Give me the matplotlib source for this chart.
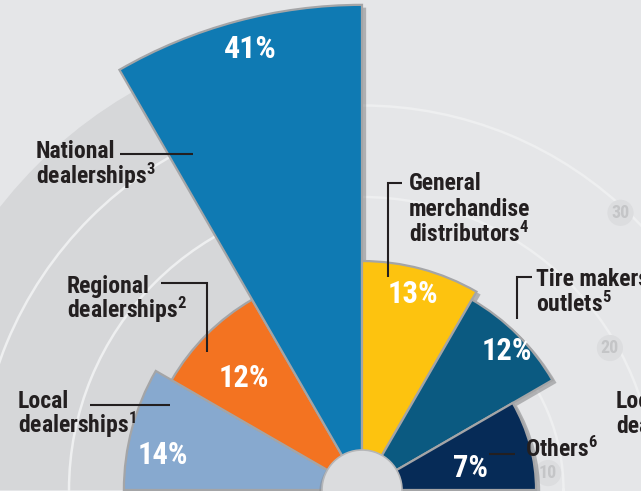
import numpy as np
import matplotlib
matplotlib.use('Agg')
import matplotlib.pyplot as plt
from matplotlib.patches import Circle
from matplotlib.lines import Line2D
import matplotlib.patheffects as pe
from matplotlib import font_manager as fm

# ---------------- data ----------------
categories = ['Local dealerships', 'Regional dealerships', 'National dealerships',
              'General merchandise distributors', 'Tire makers outlets', 'Others']
shares = [14, 12, 41, 13, 12, 7]
footnotes = ['1', '2', '3', '4', '5', '6']
pct_labels = ['14%', '12%', '41%', '13%', '12%', '7%']
grid_values = [10, 20, 30]
colors = ['#87a9cf', '#f37321', '#0f7ab3', '#fdc30f', '#0b5a81', '#062b57']

# ---------------- font ----------------
ttf = fm.fontManager.ttflist
available = {f.name for f in ttf}
font = 'DejaVu Sans'
for cand in ['Roboto Condensed', 'Archivo Narrow', 'PT Sans Narrow',
             'Barlow Condensed', 'Asap Condensed', 'Liberation Sans Narrow']:
    if cand in available:
        font = cand
        break
ital = font
for cand in [font, 'Archivo Narrow', 'Barlow Condensed', 'Asap Condensed']:
    if any(f.name == cand and f.style == 'italic' for f in ttf):
        ital = cand
        break
plt.rcParams['font.family'] = [font, 'DejaVu Sans']
plt.rcParams['mathtext.fontset'] = 'custom'
plt.rcParams['mathtext.it'] = ital + ':italic:bold'
plt.rcParams['mathtext.rm'] = font + ':bold'
plt.rcParams['mathtext.bf'] = font + ':bold'

W, H = 641, 491
fig = plt.figure(figsize=(W / 100, H / 100), dpi=100)
fig.patch.set_facecolor('#e5e6e8')

def fx(x):
    return x / W

def fy(y):
    return 1 - y / H

# polar axes centred near the bottom of the figure
cx, cy = 362, 490
scale = 9.15             # pixels per percentage point
r0 = -110 / scale        # radial value at the centre
rmax = 45
R = (rmax - r0) * scale
ax = fig.add_axes([(cx - R) / W, (H - cy - R) / H, 2 * R / W, 2 * R / H],
                  projection='polar')
ax.set_facecolor('none')
ax.set_ylim(r0, rmax)
ax.set_theta_zero_location('E')
ax.set_xticks([])
ax.set_rticks(grid_values)
ax.set_yticklabels([])
ax.set_axisbelow(True)
ax.grid(axis='y', color='#eeeff0', lw=1.8)
ax.spines['polar'].set_visible(False)

# darker background disc on the left half
ax.bar(np.deg2rad(135), 38.2 - r0, width=np.deg2rad(90), bottom=r0,
       color='#d6d7d9', zorder=0, linewidth=0)

# wedges
thetas = np.deg2rad(165 - 30 * np.arange(len(shares)))
bars = ax.bar(thetas, np.array(shares) - r0, width=np.deg2rad(30), bottom=r0,
              color=colors, edgecolor='#a4a5a7', linewidth=1.6, zorder=2)
for b in bars:
    b.set_path_effects([pe.SimplePatchShadow(offset=(3, -2), shadow_rgbFace='#6f7072', alpha=0.45),
                        pe.Normal()])

# hub
hub = Circle((0.5, 0.5), 40 / (2 * R), transform=ax.transAxes,
             facecolor='#dbdcde', edgecolor='#b5b6b8', lw=1.2, zorder=5)
hub.set_path_effects([pe.SimplePatchShadow(offset=(-2, -2), shadow_rgbFace='#8a8b8d', alpha=0.5),
                      pe.Normal()])
ax.add_patch(hub)

# radial grid labels
for v, ang, rp in zip(grid_values, [5.2, 29.8, 47.0], [8.4, 19.2, 29.4]):
    ax.text(np.deg2rad(ang), rp, str(v), ha='center', va='center', fontsize=13,
            fontweight='bold', color='#c4c5c7', zorder=1,
            bbox=dict(boxstyle='circle,pad=0.22', fc='#dcdddf', ec='none'))

# percentage labels (centre x, baseline y, size)
pct_pos = [(163, 464, 22), (244, 387, 22), (250, 58, 23),
           (413, 303, 22), (507, 360, 22), (470, 477, 22)]
for lab, (x, y, s) in zip(pct_labels, pct_pos):
    fig.text(fx(x), fy(y), lab, ha='center', va='baseline', fontsize=s,
             fontweight='bold', color='white', zorder=10)

# category labels
txt_color = '#231f20'
def sup(n):
    return '$^{\\mathit{' + n + '}}$'

label_lines = [
    (18, [(408, 'Local'), (433, 'dealerships' + sup(footnotes[0]))]),
    (67, [(293, 'Regional'), (318, 'dealerships' + sup(footnotes[1]))]),
    (36, [(158, 'National'), (184, 'dealerships' + sup(footnotes[2]))]),
    (409, [(190, 'General'), (216, 'merchandise'),
           (242, 'distributors' + sup(footnotes[3]))]),
    (536, [(286, 'Tire makers'), (312, 'outlets' + sup(footnotes[4]))]),
    (525, [(457, 'Others' + sup(footnotes[5]))]),
    (616, [(408, 'Local'), (433, 'dealerships')]),
]
for x, lines in label_lines:
    for y, s in lines:
        fig.text(fx(x), fy(y), s, ha='left', va='baseline', fontsize=17,
                 fontweight='bold', color=txt_color, zorder=10)

# leader lines
leaders = [
    [(90, 405), (170, 405)],
    [(161, 283), (207, 283), (207, 352)],
    [(120, 154), (193, 154)],
    [(402, 183), (388, 183), (388, 277)],
    [(532, 277), (517, 277), (517, 319)],
    [(489, 454), (515, 454)],
]
for pts in leaders:
    xs = [fx(p[0]) for p in pts]
    ys = [fy(p[1]) for p in pts]
    fig.add_artist(Line2D(xs, ys, color=txt_color, lw=1.5, zorder=9,
                          solid_joinstyle='miter', solid_capstyle='butt'))

fig.savefig('out.png', dpi=100, facecolor=fig.get_facecolor())
